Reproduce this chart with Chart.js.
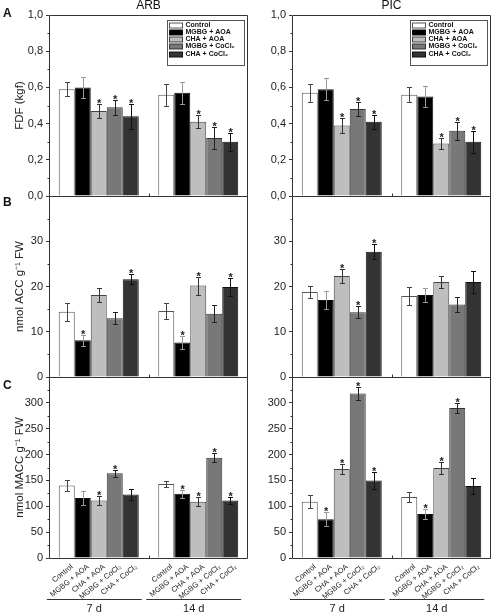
<!DOCTYPE html>
<html>
<head>
<meta charset="utf-8">
<script src="https://cdn.jsdelivr.net/npm/chart.js@4.4.1/dist/chart.umd.min.js"></script>
<style>
  html, body { margin: 0; padding: 0; background: #fff; }
  #wrap { position: relative; width: 492px; height: 616px; overflow: hidden; }
  #wrap canvas { position: absolute; }
</style>
</head>
<body>
<div id="wrap">
  <canvas id="arbA" width="250" height="210" style="left:0;top:0"></canvas>
  <canvas id="picA" width="242" height="210" style="left:250px;top:0"></canvas>
  <canvas id="arbB" width="250" height="210" style="left:0;top:181px"></canvas>
  <canvas id="picB" width="242" height="210" style="left:250px;top:181px"></canvas>
  <canvas id="arbC" width="250" height="254" style="left:0;top:362px"></canvas>
  <canvas id="picC" width="242" height="254" style="left:250px;top:362px"></canvas>
</div>
<script>
const days = ['7 d', '14 d'];
const treatments = ['Control', 'MGBG + AOA', 'CHA + AOA', 'MGBG + CoCl₂', 'CHA + CoCl₂'];

// values per day: [7 d], [14 d], treatments in the order above
const arbFdf = [[0.59, 0.60, 0.47, 0.49, 0.44], [0.56, 0.57, 0.41, 0.32, 0.30]];
const arbFdfSd = [[0.04, 0.06, 0.04, 0.04, 0.07], [0.06, 0.06, 0.035, 0.06, 0.05]];
const arbFdfSig = [[0, 0, 1, 1, 1], [0, 0, 1, 1, 1]];

const picFdf = [[0.57, 0.59, 0.39, 0.48, 0.41], [0.56, 0.55, 0.29, 0.36, 0.30]];
const picFdfSd = [[0.05, 0.06, 0.04, 0.04, 0.04], [0.04, 0.06, 0.03, 0.05, 0.06]];
const picFdfSig = [[0, 0, 1, 1, 1], [0, 0, 1, 1, 1]];

const arbAcc = [[14.4, 8.1, 18.1, 13.0, 21.6], [14.6, 7.6, 20.2, 14.0, 19.9]];
const arbAccSd = [[2.0, 1.2, 1.6, 1.3, 1.1], [1.7, 1.4, 2.0, 1.9, 2.0]];
const arbAccSig = [[0, 1, 0, 0, 1], [0, 1, 1, 0, 1]];

const picAcc = [[18.8, 17.0, 22.3, 14.3, 27.7], [17.9, 18.1, 21.0, 16.0, 21.0]];
const picAccSd = [[1.3, 2.0, 1.6, 1.3, 1.6], [2.0, 1.5, 1.3, 1.7, 2.4]];
const picAccSig = [[0, 0, 1, 1, 1], [0, 0, 0, 0, 0]];

const arbMacc = [[140, 116, 111, 164, 123], [143, 124, 109, 194, 111]];
const arbMaccSd = [[10, 13, 8, 7, 10], [6, 8, 9, 9, 7]];
const arbMaccSig = [[0, 0, 1, 1, 0], [0, 1, 1, 1, 1]];

const picMacc = [[109, 75, 172, 318, 150], [118, 85, 174, 290, 139]];
const picMaccSd = [[13, 13, 9, 12, 17], [10, 9, 12, 10, 16]];
const picMaccSig = [[0, 1, 1, 1, 1], [0, 1, 1, 1, 0]];

const fills = ['#ffffff', '#000000', '#bebebe', '#787878', '#333333'];
const edges = ['#555555', '#111111', '#444444', '#333333', '#111111'];
const whisker = ['#444', '#999', '#333', '#222', '#111'];
const FONT = '"Liberation Sans", Arial, sans-serif';

function fmt(v, dec) {
    return dec ? v.toFixed(dec).replace('.', ',') : String(Math.round(v));
}

const decor = {
    id: 'decor',
    afterDraw(chart, args, o) {
        const ctx = chart.ctx, a = chart.chartArea, y = chart.scales.y;
        const L = Math.round(a.left) + 0.5, R = Math.round(a.right) - 0.5;
        const T = Math.round(a.top) + 0.5, B = Math.round(a.bottom) + 0.5;
        ctx.save();
        ctx.lineWidth = 1;

        // error bars + asterisks
        chart.data.datasets.forEach((ds, i) => {
            chart.getDatasetMeta(i).data.forEach((bar, j) => {
                const x = Math.round(bar.x) + 0.5;
                const hi = Math.round(y.getPixelForValue(ds.data[j] + ds.sd[j])) + 0.5;
                const lo = Math.round(y.getPixelForValue(ds.data[j] - ds.sd[j])) + 0.5;
                ctx.strokeStyle = whisker[i];
                ctx.beginPath();
                ctx.moveTo(x, lo); ctx.lineTo(x, hi);
                ctx.moveTo(x - 2.5, hi); ctx.lineTo(x + 2.5, hi);
                ctx.moveTo(x - 2.5, lo); ctx.lineTo(x + 2.5, lo);
                ctx.stroke();
                if (ds.sig[j]) {
                    ctx.fillStyle = '#222';
                    ctx.font = 'bold 11px ' + FONT;
                    ctx.textAlign = 'center';
                    ctx.textBaseline = 'alphabetic';
                    ctx.fillText('*', bar.x + 0.5, hi + 2);
                }
            });
        });

        // frame, minor ticks, middle tick
        ctx.strokeStyle = '#333';
        ctx.beginPath();
        ctx.moveTo(L, T); ctx.lineTo(R, T); ctx.lineTo(R, B); ctx.lineTo(L, B); ctx.closePath();
        for (let v = o.step / 2; v < o.max; v += o.step) {
            const py = Math.round(y.getPixelForValue(v)) + 0.5;
            ctx.moveTo(L - 2, py); ctx.lineTo(L, py);
        }
        const mid = Math.round((a.left + a.right) / 2) + 0.5;
        ctx.moveTo(mid, B); ctx.lineTo(mid, B - 3);
        ctx.stroke();

        ctx.fillStyle = '#111';
        if (o.heading) {
            ctx.font = '12px ' + FONT;
            ctx.textAlign = 'center';
            ctx.textBaseline = 'middle';
            ctx.fillText(o.heading, (a.left + a.right) / 2, 6);
        }
        if (o.letter) {
            ctx.font = 'bold 12px ' + FONT;
            ctx.textAlign = 'left';
            ctx.textBaseline = 'middle';
            ctx.fillText(o.letter, 3, o.letterY);
        }

        if (o.legend) {
            const bx = Math.round(a.right) - 80.5, by = Math.round(a.top) + 5.5;
            ctx.strokeStyle = '#555';
            ctx.strokeRect(bx, by, 77, 45);
            ctx.font = 'bold 7px ' + FONT;
            ctx.textAlign = 'left';
            ctx.textBaseline = 'middle';
            chart.data.datasets.forEach((ds, i) => {
                const cy = Math.round(by + 4 + i * 7.3);
                ctx.fillStyle = ds.backgroundColor;
                ctx.fillRect(bx + 2, cy - 2, 13, 5);
                ctx.strokeStyle = ds.borderColor;
                ctx.strokeRect(bx + 2, cy - 2, 13, 5);
                ctx.fillStyle = '#111';
                ctx.fillText(ds.label, bx + 18, cy + 0.5);
            });
        }

        if (o.bottom) {
            ctx.fillStyle = '#222';
            ctx.font = '7.5px ' + FONT;
            ctx.textAlign = 'right';
            ctx.textBaseline = 'top';
            chart.data.datasets.forEach((ds, i) => {
                chart.getDatasetMeta(i).data.forEach(bar => {
                    ctx.save();
                    ctx.translate(bar.x + 3, a.bottom + 5);
                    ctx.rotate(-0.68);
                    ctx.fillText(ds.label, 0, 0);
                    ctx.restore();
                });
            });
            const first = chart.getDatasetMeta(0).data;
            const last = chart.getDatasetMeta(chart.data.datasets.length - 1).data;
            const ly = Math.round(a.bottom) + 41.5;
            chart.data.labels.forEach((lab, j) => {
                const x0 = first[j].x - first[j].width / 2 - 12;
                const x1 = last[j].x + last[j].width / 2 + 3;
                ctx.strokeStyle = '#333';
                ctx.beginPath(); ctx.moveTo(x0, ly); ctx.lineTo(x1, ly); ctx.stroke();
                ctx.font = '11px ' + FONT;
                ctx.textAlign = 'center';
                ctx.textBaseline = 'middle';
                ctx.fillText(lab, (x0 + x1) / 2, ly + 9);
            });
        }
        ctx.restore();
    }
};

function makePanel(id, mean, sd, sig, p) {
    const datasets = treatments.map((t, i) => ({
        label: t,
        data: days.map((d, j) => mean[j][i]),
        sd: days.map((d, j) => sd[j][i]),
        sig: days.map((d, j) => sig[j][i]),
        backgroundColor: fills[i],
        borderColor: edges[i],
        borderWidth: 1,
        categoryPercentage: 0.804,
        barPercentage: 1
    }));
    return new Chart(document.getElementById(id), {
        type: 'bar',
        data: { labels: days, datasets: datasets },
        options: {
            responsive: false,
            animation: false,
            devicePixelRatio: 1,
            layout: { padding: { top: 15, right: p.padR, bottom: p.padB, left: 0 } },
            plugins: {
                legend: { display: false },
                tooltip: { enabled: false },
                decor: p
            },
            scales: {
                x: { display: false },
                y: {
                    min: 0,
                    max: p.max,
                    afterFit: s => { s.width = p.axisW; },
                    border: { display: false },
                    grid: { drawOnChartArea: false, tickLength: 3, color: '#333' },
                    ticks: {
                        stepSize: p.step,
                        padding: 3,
                        color: '#222',
                        font: { family: FONT, size: 11 },
                        callback: v => (v > p.top ? null : fmt(v, p.dec))
                    },
                    title: {
                        display: !!p.yTitle,
                        text: p.yTitle || '',
                        color: '#222',
                        font: { family: FONT, size: 11.5 },
                        padding: { top: 13, bottom: 0 }
                    }
                }
            }
        },
        plugins: [decor]
    });
}

const left = { axisW: 49, padR: 2 };
const right = { axisW: 42, padR: 1 };
const rowA = { max: 1, step: 0.2, dec: 1, top: 1.01, padB: 14, legend: true };
const rowB = { max: 40, step: 10, dec: 0, top: 30, padB: 14 };
const rowC = { max: 350, step: 50, dec: 0, top: 300, padB: 58, bottom: true };

makePanel('arbA', arbFdf, arbFdfSd, arbFdfSig, { ...left, ...rowA, yTitle: 'FDF (kgf)', heading: 'ARB', letter: 'A', letterY: 14 });
makePanel('picA', picFdf, picFdfSd, picFdfSig, { ...right, ...rowA, heading: 'PIC' });
makePanel('arbB', arbAcc, arbAccSd, arbAccSig, { ...left, ...rowB, yTitle: 'nmol ACC g⁻¹ FW', letter: 'B', letterY: 22 });
makePanel('picB', picAcc, picAccSd, picAccSig, { ...right, ...rowB });
makePanel('arbC', arbMacc, arbMaccSd, arbMaccSig, { ...left, ...rowC, yTitle: 'nmol MACC g⁻¹ FW', letter: 'C', letterY: 24 });
makePanel('picC', picMacc, picMaccSd, picMaccSig, { ...right, ...rowC });
</script>
</body>
</html>
